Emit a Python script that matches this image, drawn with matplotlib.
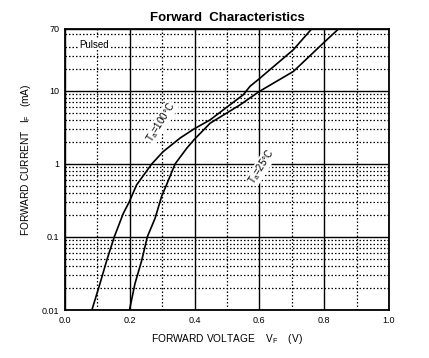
import matplotlib
matplotlib.use("Agg")
import matplotlib.pyplot as plt
from matplotlib.ticker import FixedLocator, NullFormatter

plt.rcParams['font.family'] = ['Liberation Sans', 'DejaVu Sans']
plt.rcParams['mathtext.fontset'] = 'custom'
plt.rcParams['mathtext.rm'] = 'Liberation Sans'

# ---------- data ----------
v_100 = [0.083, 0.108, 0.129, 0.152, 0.180, 0.198, 0.221, 0.268, 0.303, 0.355,
         0.398, 0.448, 0.489, 0.550, 0.571, 0.602, 0.705, 0.761]
i_100 = [0.01, 0.023, 0.048, 0.1, 0.21, 0.3, 0.515, 1.0, 1.47, 2.25,
         3.0, 4.0, 5.5, 8.8, 11.5, 14.9, 36.5, 70]

v_25 = [0.199, 0.216, 0.237, 0.254, 0.278, 0.298, 0.312, 0.340, 0.376, 0.398,
        0.448, 0.540, 0.600, 0.705, 0.802, 0.844]
i_25 = [0.01, 0.023, 0.048, 0.1, 0.18, 0.357, 0.5, 1.0, 1.64, 2.13,
        3.6, 6.4, 9.8, 18.4, 47, 70]

x_major = [0.0, 0.2, 0.4, 0.6, 0.8, 1.0]
x_minor = [0.1, 0.3, 0.5, 0.7, 0.9]
y_major = [0.01, 0.1, 1, 10, 70]
y_labels = ["0.01", "0.1", "1", "10", "70"]
y_minor = ([k * 0.01 for k in range(2, 10)] + [k * 0.1 for k in range(2, 10)]
           + [float(k) for k in range(2, 10)] + [20, 30, 40, 60])

# ---------- figure ----------
fig = plt.figure(figsize=(4.29, 3.58), dpi=100)
ax = fig.add_axes([65 / 429, 48 / 358, 324 / 429, 281 / 358])

ax.set_yscale("log")
ax.set_xlim(0, 1.0)
ax.set_ylim(0.01, 70)

ax.xaxis.set_major_locator(FixedLocator(x_major))
ax.xaxis.set_minor_locator(FixedLocator(x_minor))
ax.set_xticklabels([f"{v:.1f}" for v in x_major])
ax.yaxis.set_major_locator(FixedLocator(y_major))
ax.yaxis.set_minor_locator(FixedLocator(y_minor))
ax.yaxis.set_minor_formatter(NullFormatter())
ax.set_yticklabels(y_labels)

ax.tick_params(which="both", length=0, labelsize=6.5, pad=4)
ax.grid(which="major", color="black", linewidth=1.0, linestyle="-")
ax.grid(which="minor", color="black", linewidth=0.9, linestyle=(0, (1.2, 1.6)))
for s in ax.spines.values():
    s.set_linewidth(1.3)

ax.plot(v_100, i_100, color="black", linewidth=1.2, zorder=3)
ax.plot(v_25, i_25, color="black", linewidth=1.2, zorder=3)

ax.text(0.043, 0.944, "Pulsed", transform=ax.transAxes, fontsize=7,
        va="center", ha="left",
        bbox=dict(facecolor="white", edgecolor="none", pad=0.5))

ax.text(0.296, 3.7, r"T$\mathregular{_a}$=100°C", rotation=58, fontsize=7,
        ha="center", va="center", zorder=4,
        bbox=dict(facecolor="white", edgecolor="none", pad=0.3))
ax.text(0.607, 0.92, r"T$\mathregular{_a}$=25°C", rotation=58, fontsize=7,
        ha="center", va="center", zorder=4,
        bbox=dict(facecolor="white", edgecolor="none", pad=0.3))

ax.set_title("Forward  Characteristics", fontsize=9.5, fontweight="bold", pad=6)
ax.set_xlabel(r"FORWARD VOLTAGE    V$\mathregular{_F}$    (V)", fontsize=7.3, labelpad=5)
ax.set_ylabel(r"FORWARD CURRENT   I$\mathregular{_F}$   (mA)", fontsize=7.3)
ax.yaxis.set_label_coords(-0.1, 0.535)

fig.savefig("out.png", dpi=100)
